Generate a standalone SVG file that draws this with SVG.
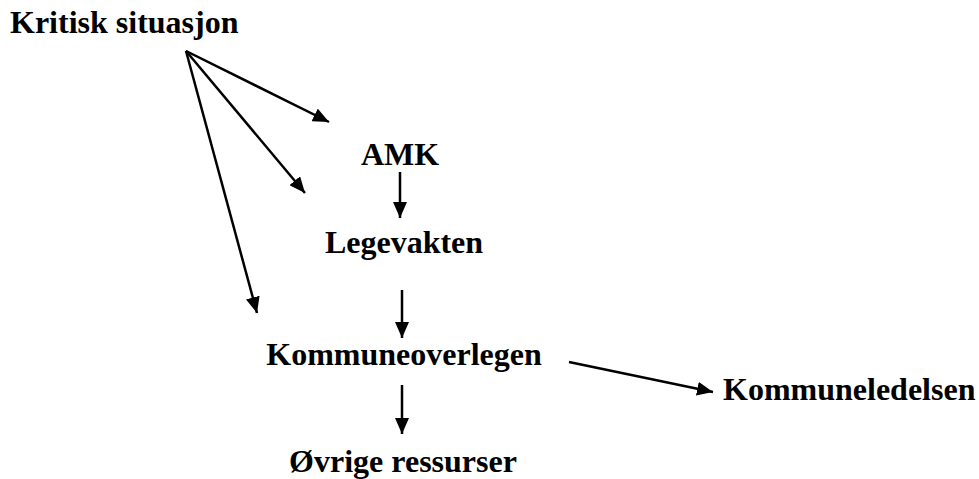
<svg xmlns="http://www.w3.org/2000/svg" width="979" height="479" viewBox="0 0 979 479">
<style>
text{font-family:"Liberation Serif","Times New Roman",serif;font-weight:bold;font-size:32px;fill:#000}
.c line{stroke:#000;stroke-width:2.5;marker-end:url(#ah)}
</style>
<defs>
<marker id="ah" markerUnits="userSpaceOnUse" markerWidth="18" markerHeight="14" refX="16" refY="7" orient="auto">
<path d="M0,0 L16,7 L0,14 Z" fill="#000"/>
</marker>
</defs>
<rect width="979" height="479" fill="#fff"/>
<g class="c">
<line x1="186" y1="51" x2="329" y2="122"/>
<line x1="186" y1="51" x2="305" y2="193"/>
<line x1="186" y1="51" x2="257" y2="313"/>
<line x1="400" y1="172" x2="400" y2="218"/>
<line x1="402" y1="290" x2="402" y2="338"/>
<line x1="402" y1="385" x2="402" y2="434"/>
<line x1="569" y1="362" x2="713" y2="392"/>
</g>
<g id="kritisk"><text x="10" y="33">Kritisk situasjon</text></g>
<g id="amk"><text x="400" y="165" text-anchor="middle">AMK</text></g>
<g id="legevakten"><text x="404" y="253" text-anchor="middle">Legevakten</text></g>
<g id="kommuneoverlegen"><text x="404" y="365" text-anchor="middle">Kommuneoverlegen</text></g>
<g id="kommuneledelsen"><text x="723" y="400">Kommuneledelsen</text></g>
<g id="ovrige"><text x="403" y="472" text-anchor="middle">Øvrige ressurser</text></g>
</svg>
